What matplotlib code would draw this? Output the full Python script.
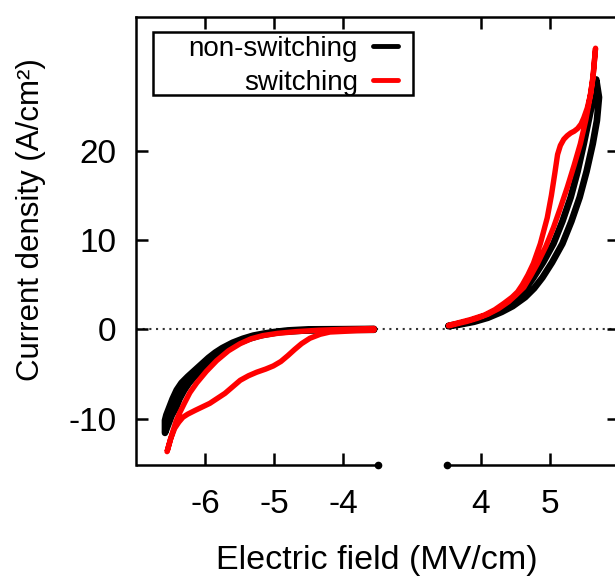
import matplotlib
matplotlib.use("Agg")
import matplotlib.pyplot as plt
from matplotlib.patches import Rectangle
import numpy as np

plt.rcParams['font.family'] = ['Liberation Sans', 'DejaVu Sans']
plt.rcParams['axes.unicode_minus'] = False

# ---------------- data (real field values, MV/cm ; current density A/cm^2) -------------
# non-switching, negative branch (closed loop)
ns_neg_x = [-3.55, -4.0, -4.5, -4.8, -5.0, -5.15, -5.3, -5.45, -5.6, -5.75, -5.85, -5.95, -6.05,
            -6.15, -6.25, -6.34, -6.41, -6.47, -6.52, -6.56, -6.58,
            -6.58, -6.53, -6.48, -6.42, -6.37, -6.3, -6.23, -6.15, -6.05, -5.95, -5.85, -5.75,
            -5.65, -5.51, -5.36, -5.21, -5.06, -4.92, -4.6, -4.0, -3.55]
ns_neg_y = [0.05, 0.02, 0.0, -0.12, -0.3, -0.48, -0.7, -1.05, -1.5, -2.1, -2.6, -3.2, -3.9,
            -4.6, -5.3, -6.0, -6.8, -7.8, -8.8, -9.6, -10.2,
            -11.6, -10.6, -9.6, -8.8, -7.8, -6.8, -6.0, -5.3, -4.6, -3.9, -3.2, -2.6,
            -2.1, -1.5, -1.05, -0.7, -0.48, -0.3, -0.15, -0.05, -0.05]
# non-switching, positive branch
ns_pos_x = [3.53, 3.8, 4.0, 4.15, 4.3, 4.42, 4.53, 4.65, 4.76, 4.9, 5.05, 5.18, 5.30, 5.4, 5.49,
            5.56, 5.63, 5.67,
            5.71, 5.68, 5.62, 5.53, 5.43, 5.31, 5.18, 5.03, 4.89, 4.77, 4.64, 4.46, 4.3,
            4.1, 3.9, 3.7, 3.53]
ns_pos_y = [0.4, 0.8, 1.2, 1.7, 2.3, 2.9, 3.6, 4.6, 5.8, 7.5, 9.6, 12.1, 14.8, 17.7, 20.8,
            23.4, 26.0, 28.0,
            26.0, 23.4, 20.8, 17.7, 14.8, 12.1, 9.6, 7.5, 5.8, 4.6, 3.6, 2.6, 1.95,
            1.3, 0.85, 0.55, 0.35]
# switching, negative branch
sw_neg_x = [-3.55, -4.0, -4.35, -4.67, -4.95, -5.16, -5.33, -5.49, -5.66, -5.83, -5.98, -6.12,
            -6.22, -6.3, -6.37, -6.42, -6.48, -6.55,
            -6.5, -6.44, -6.38, -6.32, -6.25, -6.14, -5.93, -5.71, -5.49, -5.37, -5.25, -5.12,
            -5.01, -4.9, -4.8, -4.7, -4.6, -4.48, -4.33, -4.19, -3.8, -3.55]
sw_neg_y = [0.1, 0.0, -0.1, -0.25, -0.45, -0.7, -1.05, -1.6, -2.4, -3.5, -4.7, -6.0,
            -7.1, -8.3, -9.4, -10.3, -11.8, -13.7,
            -12.3, -11.1, -10.4, -9.85, -9.5, -9.07, -8.29, -7.17, -5.71, -5.2, -4.8, -4.45,
            -4.1, -3.6, -2.95, -2.25, -1.6, -1.0, -0.55, -0.3, -0.15, -0.1]
# switching, positive branch
sw_pos_x = [3.53, 3.85, 4.05, 4.2, 4.33, 4.45, 4.53, 4.6, 4.68, 4.76, 4.86, 4.96, 5.02, 5.07,
            5.11, 5.15, 5.2, 5.25, 5.30, 5.35, 5.40, 5.45, 5.49, 5.54, 5.59, 5.63, 5.66,
            5.64, 5.62, 5.57, 5.52, 5.44, 5.35, 5.25, 5.15, 5.05, 4.94, 4.82, 4.72, 4.62,
            4.5, 4.4, 4.25, 4.1, 3.95, 3.8, 3.53]
sw_pos_y = [0.45, 1.1, 1.6, 2.2, 2.9, 3.6, 4.2, 5.0, 6.1, 7.4, 9.6, 12.5, 15.0, 17.5,
            19.6, 20.6, 21.3, 21.7, 22.0, 22.2, 22.5, 23.0, 23.7, 24.8, 26.4, 28.8, 31.5,
            29.8, 28.0, 25.6, 23.5, 20.8, 18.4, 15.9, 13.6, 11.4, 9.3, 7.4, 6.0, 4.7,
            3.8, 3.1, 2.3, 1.7, 1.25, 0.9, 0.4]

series_labels = ['non-switching', 'switching']
series_colors = ['black', '#ff0000']

xticks_real = [-6, -5, -4, 4, 5]
yticks = [-10, 0, 10, 20]
ytick_labels = ['-10', '0', '10', '20']

# broken axis: positive branch is shifted left on the plotting axis
SHIFT = 6.0
left_range = (-7.0, -3.5)
right_range = (3.5, 6.0)
ylim = (-15.2, 35.0)

def to_plot(x):
    x = np.asarray(x, dtype=float)
    return np.where(x > 0, x - SHIFT, x)

W, H = 615, 576
fig = plt.figure(figsize=(W / 100, H / 100), dpi=100)
ax = fig.add_axes([136 / W, (H - 465) / H, (619 - 136) / W, (465 - 17) / H])

kw = dict(solid_joinstyle='round', solid_capstyle='round')
ax.plot(to_plot(ns_neg_x), ns_neg_y, color=series_colors[0], lw=4.8, label=series_labels[0], **kw)
ax.plot(to_plot(ns_pos_x), ns_pos_y, color=series_colors[0], lw=4.8, **kw)
ax.plot(to_plot(sw_neg_x), sw_neg_y, color=series_colors[1], lw=3.9, label=series_labels[1], **kw)
ax.plot(to_plot(sw_pos_x), sw_pos_y, color=series_colors[1], lw=3.9, **kw)

x0, x1 = left_range[0], right_range[1] - SHIFT
ax.plot([x0, x1], [0, 0], color='#333333', lw=1.5, ls=(0, (1, 2.2)), zorder=1)

ax.set_xlim(x0, x1)
ax.set_ylim(*ylim)

# bottom spine drawn in two pieces with break marks
ax.spines['bottom'].set_visible(False)
for a, b in [left_range, (right_range[0] - SHIFT, right_range[1] - SHIFT)]:
    ax.plot([a, b], [ylim[0], ylim[0]], color='black', lw=1.8, clip_on=False, zorder=5,
            solid_capstyle='butt')
ax.plot([left_range[1], right_range[0] - SHIFT], [ylim[0], ylim[0]], ls='none', marker='o',
        ms=4.5, color='black', clip_on=False, zorder=6)

for s in ['left', 'top', 'right']:
    ax.spines[s].set_linewidth(1.8)

ax.set_xticks(to_plot(xticks_real))
ax.set_xticklabels([str(v) for v in xticks_real])
ax.set_yticks(yticks)
ax.set_yticklabels(ytick_labels)
ax.tick_params(axis='both', direction='in', length=8.5, width=1.8, top=True, right=True,
               labelsize=24, colors='black')
ax.tick_params(axis='x', pad=17)
ax.tick_params(axis='y', pad=14)

fig.text(377 / W, 1 - 560 / H, 'Electric field (MV/cm)', ha='center', va='center', fontsize=24.5)
fig.text(31 / W, 1 - 220 / H, 'Current density (A/cm²)', ha='center', va='center',
         rotation=90, fontsize=22.5)

leg = ax.legend(loc='upper right', bbox_to_anchor=(398 / W, 1 - 36 / H),
                bbox_transform=fig.transFigure, frameon=False, markerfirst=False,
                fontsize=20, handlelength=0.9, handletextpad=0.55, labelspacing=0.27,
                borderpad=0, borderaxespad=0)
for ln in leg.get_lines():
    ln.set_linewidth(3.5)
leg.set_zorder(10)
box = Rectangle((153 / W, 1 - 95 / H), (413 - 153) / W, (95 - 32) / H,
                transform=fig.transFigure, facecolor='white', edgecolor='black', lw=1.8,
                zorder=9, clip_on=False)
ax.add_artist(box)

fig.savefig('out.png', dpi=100)
